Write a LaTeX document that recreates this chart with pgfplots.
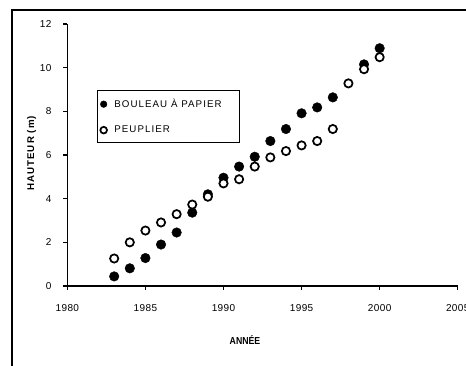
\documentclass[border=0pt]{standalone}
\usepackage{pgfplots}
\pgfplotsset{compat=1.18}
\usepackage{fontspec}
\setmainfont{Liberation Sans}
\newfontfamily\spaced[LetterSpace=11]{Liberation Sans}
\newfontfamily\tickfont[LetterSpace=4]{Liberation Sans}
\newfontfamily\spacedB[LetterSpace=11]{Liberation Sans}
\begin{document}
\begin{tikzpicture}
\useasboundingbox (-50.5pt,-59.25pt) rectangle (299pt,214.5pt);
\draw[line width=1.5pt] (-41.5pt,-70pt) -- (-41.5pt,207pt) -- (310pt,207pt);
\begin{axis}[
  at={(0pt,0pt)}, anchor=origin,
  scale only axis, width=292.8pt, height=196.5pt,
  xmin=1980, xmax=2005, ymin=0, ymax=12,
  axis lines=left, axis line style={-, line width=1.1pt},
  every tick/.style={black, line width=1.1pt},
  major tick length=3pt, tick align=outside,
  xtick={1980,1985,...,2005}, ytick={0,2,...,12},
  /pgf/number format/assume math mode=true,
  /pgf/number format/1000 sep={},
  ticklabel style={font=\tickfont\fontsize{7.5}{9}\selectfont, inner sep=0pt},
  xticklabel style={yshift=-10.5pt},
  yticklabel style={xshift=-8.7pt},
  clip=false,
  xlabel={\fontsize{7.6}{9}\selectfont\bfseries\scalebox{0.86}[1]{ANNÉE}},
  xlabel style={at={(axis description cs:0.455,0)}, anchor=center, yshift=-40.5pt},
  ylabel={\spacedB\fontsize{7.3}{9}\selectfont\bfseries HAUTEUR (m)},
  ylabel style={at={(axis description cs:-0.0912,0.506)}, anchor=center},
  legend style={at={(0.076,0.748)}, anchor=north west, draw=black, line width=1pt,
    font=\spaced\fontsize{7.3}{9}\selectfont, inner xsep=2pt, inner ysep=5.2pt,
    row sep=10.3pt, cells={anchor=west},
    nodes={inner sep=1pt}},
  legend image code/.code={\path[draw=none] (-2.5pt,0pt) -- (7pt,0pt); \draw[#1] plot[only marks, mark size=2.5pt] coordinates {(0pt,0pt)};},
]
\addplot[only marks, mark=*, mark size=3.6pt, mark options={draw=black, fill=black, line width=0.3pt}] coordinates {
(1983,0.44) (1984,0.81) (1985,1.28) (1986,1.90) (1987,2.45) (1988,3.36) (1989,4.20)
(1990,4.96) (1991,5.47) (1992,5.92) (1993,6.64) (1994,7.19) (1995,7.91) (1996,8.18)
(1997,8.64) (1999,10.15) (2000,10.89)};
\addlegendentry{\makebox[91pt][l]{BOULEAU À PAPIER}}
\addplot[only marks, mark=*, mark size=3.1pt, mark options={draw=black, fill=white, line width=1.3pt}] coordinates {
(1983,1.26) (1984,2.00) (1985,2.54) (1986,2.91) (1987,3.29) (1988,3.73) (1989,4.09)
(1990,4.70) (1991,4.89) (1992,5.47) (1993,5.89) (1994,6.18) (1995,6.44) (1996,6.64)
(1997,7.19) (1998,9.28) (1999,9.93) (2000,10.48)};
\addlegendentry{PEUPLIER}
\end{axis}
\end{tikzpicture}
\end{document}
